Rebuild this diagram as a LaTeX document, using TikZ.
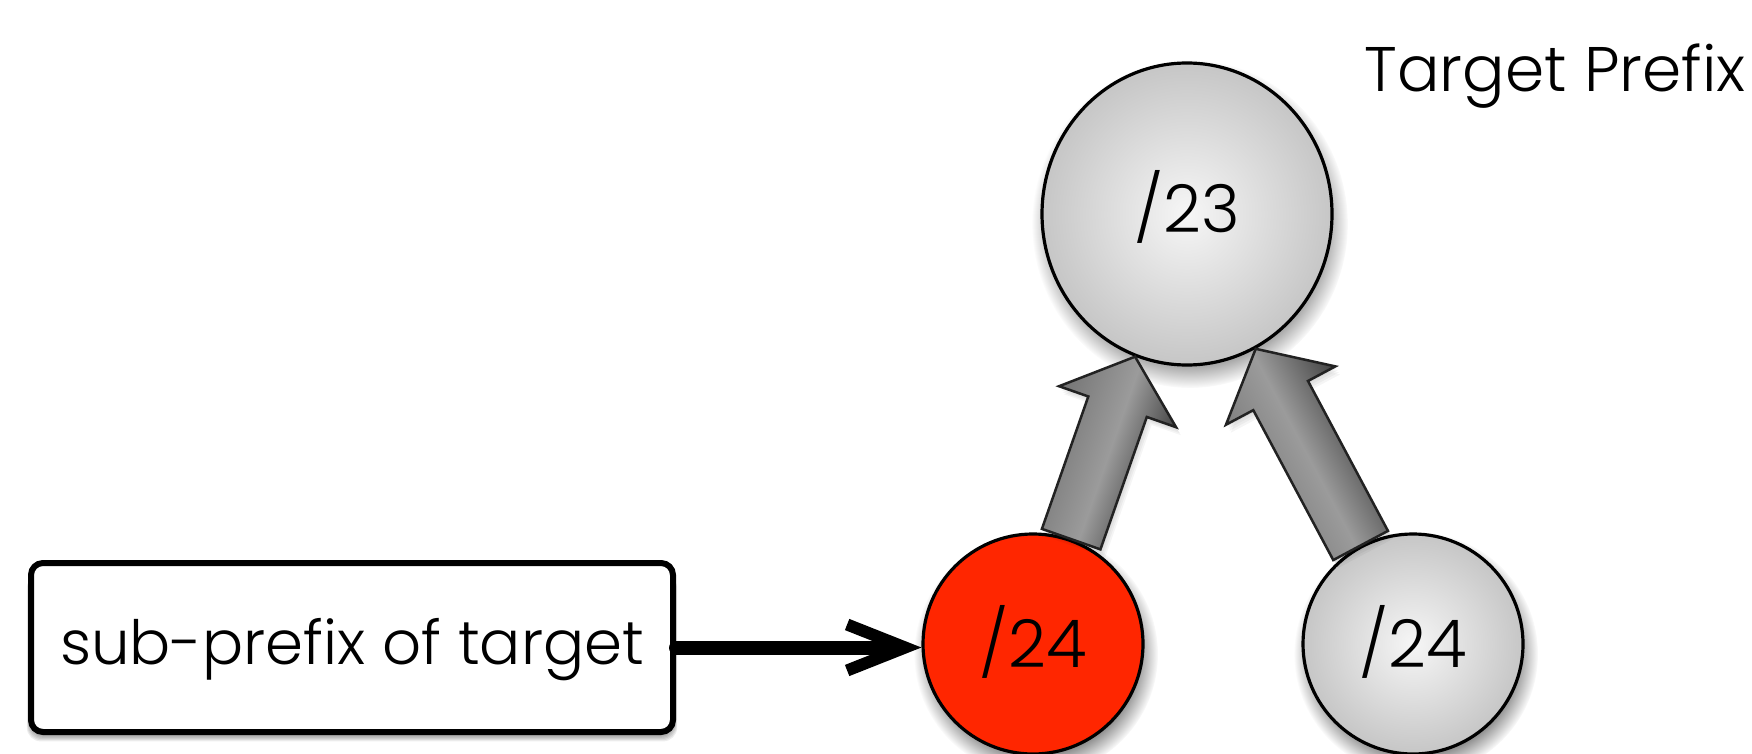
\documentclass[tikz,border=0pt]{standalone}
\usepackage{fontspec}
\setmainfont{Poppins Light}
\usetikzlibrary{arrows.meta,calc,shapes.geometric,fadings}
\definecolor{redfill}{RGB}{255,38,0}
\definecolor{ballin}{RGB}{246,246,246}
\definecolor{ballout}{RGB}{198,198,198}
\definecolor{arrL}{RGB}{112,112,112}
\definecolor{arrM}{RGB}{155,155,155}
\definecolor{arrR}{RGB}{36,36,36}
\definecolor{arrline}{RGB}{34,34,34}
\newcommand\blkarrow[3]{%
  \path (#1) coordinate (ba-s) (#2) coordinate (ba-e);
  \path ($(ba-e)!53pt!(ba-s)$) coordinate (ba-h);
  \path ($(ba-s)!31pt!90:(ba-e)$) coordinate (ba-1)
        ($(ba-h)!31pt!90:(ba-e)$) coordinate (ba-2)
        ($(ba-h)!62pt!90:(ba-e)$) coordinate (ba-3)
        ($(ba-h)!62pt!-90:(ba-e)$) coordinate (ba-4)
        ($(ba-h)!31pt!-90:(ba-e)$) coordinate (ba-5)
        ($(ba-s)!31pt!-90:(ba-e)$) coordinate (ba-6);
  \foreach \k in {2,4,6,8}
  \fill[black, opacity=0.04, transform canvas={shift={(\k pt*0.6,-\k pt)}}]
     (ba-1) -- (ba-2) -- (ba-3) -- (ba-e) -- (ba-4) -- (ba-5) -- (ba-6) -- cycle;
  \draw[blockarrow, shading angle=#3]
     (ba-1) -- (ba-2) -- (ba-3) -- (ba-e) -- (ba-4) -- (ba-5) -- (ba-6) -- cycle;
}
\newcommand\lowered[2]{\smash{\raisebox{#1}{#2}}}
\begin{document}
\begin{tikzpicture}[x=1pt,y=-1pt,
  ball/.style={circle, draw=black, line width=3.2pt, inner sep=0pt,
    minimum size=220pt, font=\fontsize{66}{70}\selectfont},
  grayball/.style={ball, inner color=ballin, outer color=ballout},
  redball/.style={ball, fill=redfill},
  bigball/.style={ellipse, draw=black, line width=3.2pt, inner sep=0pt,
    minimum width=290pt, minimum height=302pt, inner color=ballin, outer color=ballout,
    font=\fontsize{66}{70}\selectfont},
  labelbox/.style={rectangle, rounded corners=12pt, draw=black, line width=6pt, fill=white,
    minimum width=642pt, minimum height=169pt, inner sep=0pt,
    font=\fontsize{61}{70}\selectfont},
  blockarrow/.style={draw=arrline, line width=2.5pt, line join=miter,
    left color=arrL, right color=arrR, middle color=arrM},
  softshadow/.style={black, opacity=0.5, path fading=circle with fuzzy edge 20 percent},
  title/.style={font=\fontsize{63}{70}\selectfont, anchor=base}
]
\useasboundingbox (0,0) rectangle (1752,754);
% shadows
\fill[softshadow] (1190,224) ellipse (158 and 164);
\fill[softshadow] (1036,654) circle (122);
\fill[softshadow] (1416,654) circle (122);
\foreach \i in {1,...,7}
  \fill[black, opacity=0.07, rounded corners=14pt] (31-\i*0.6,566+\i*1.2) rectangle (673+\i*0.6,733+\i*1.2);
% nodes
\node[bigball] (big) at (1187,214) {\lowered{-18pt}{/23}};
\node[redball] (red) at (1033,644) {\lowered{-23pt}{/24}};
\node[grayball] (gray) at (1413,644) {\lowered{-23pt}{/24}};
\node[labelbox] (box) at (352,647.5) {\lowered{-16.5pt}{sub-prefix of target}};
\node[title] (title) at (1555,92) {Target Prefix};
% connectors
\draw[line width=14pt, line cap=round, -{Straight Barb[length=58pt,width=46pt,line width=12pt]}]
  (box.east) -- (red.west |- box.east);
\blkarrow{red.70}{big.250}{70.7}
\blkarrow{gray.118}{big.297}{118.1}
\end{tikzpicture}
\end{document}
